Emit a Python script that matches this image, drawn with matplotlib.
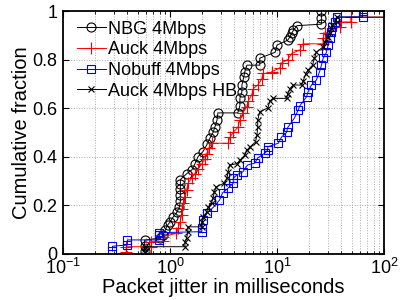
import matplotlib

matplotlib.use("Agg")
import matplotlib.pyplot as plt
from matplotlib.ticker import LogLocator, NullFormatter

plt.rcParams["font.family"] = ["Liberation Sans", "DejaVu Sans"]

# CDF vertices (x in ms, y cumulative fraction)
nbg_x = [0.58, 0.58, 0.58, 0.81, 0.86, 0.9, 0.95, 1.0, 1.07, 1.16, 1.22, 1.25, 1.25, 1.25,
         1.25, 1.25, 1.44, 1.6, 1.71, 1.83, 2.03, 2.22, 2.36, 2.53, 2.62, 2.75, 2.8, 4.3,
         4.5, 4.5, 4.7, 4.7, 4.9, 5.0, 5.24, 6.9, 6.9, 9.6, 10.0, 12.6, 13.2, 13.8, 14.2,
         15.4, 26.0, 26.0, 26.0]
nbg_y = [0.012, 0.03, 0.055, 0.064, 0.076, 0.096, 0.117, 0.13, 0.15, 0.17, 0.19, 0.215,
         0.24, 0.265, 0.285, 0.305, 0.33, 0.345, 0.37, 0.40, 0.42, 0.45, 0.476, 0.50, 0.52,
         0.55, 0.58, 0.58, 0.61, 0.64, 0.667, 0.695, 0.73, 0.75, 0.777, 0.777, 0.806, 0.83,
         0.86, 0.88, 0.894, 0.91, 0.92, 0.94, 0.946, 0.97, 1.0]

auck_x = [0.39, 0.39, 0.67, 0.67, 0.86, 0.86, 1.15, 1.19, 1.24, 1.29, 1.29, 1.33, 1.38,
          1.43, 1.47, 1.59, 1.71, 1.83, 1.98, 2.12, 2.2, 2.3, 2.46, 3.5, 3.63, 3.9, 4.3,
          4.5, 4.8, 5.2, 5.4, 5.8, 6.0, 6.6, 7.2, 7.4, 8.9, 8.9, 10.6, 11.1, 12.6, 13.7,
          16.4, 17.5, 27.0, 27.0, 28.0, 39.0, 40.0, 49.0, 49.0, 150.0]
auck_y = [0.007, 0.028, 0.028, 0.049, 0.05, 0.07, 0.083, 0.105, 0.13, 0.16, 0.185, 0.21,
          0.235, 0.26, 0.29, 0.31, 0.33, 0.35, 0.37, 0.39, 0.41, 0.435, 0.455, 0.455, 0.48,
          0.50, 0.52, 0.55, 0.58, 0.605, 0.63, 0.654, 0.68, 0.695, 0.72, 0.743, 0.743, 0.75,
          0.765, 0.787, 0.80, 0.825, 0.84, 0.865, 0.865, 0.89, 0.91, 0.935, 0.955, 0.955,
          0.975, 0.975]

nobuff_x = [0.29, 0.29, 0.40, 0.40, 0.79, 0.79, 0.79, 1.98, 1.98, 2.03, 2.2, 2.53, 2.9,
            3.1, 3.5, 3.9, 3.9, 4.2, 4.8, 5.3, 6.2, 6.6, 7.7, 8.2, 8.2, 10.3, 11.0, 12.3,
            12.6, 14.6, 15.7, 16.4, 18.9, 19.5, 21.0, 23.3, 25.0, 26.0, 27.0, 29.0, 30.0,
            31.0, 32.0, 33.0, 34.5, 36.0, 63.0, 63.0]
nobuff_y = [0.01, 0.03, 0.035, 0.056, 0.056, 0.076, 0.086, 0.09, 0.105, 0.138, 0.166, 0.19,
            0.22, 0.25, 0.27, 0.29, 0.31, 0.324, 0.337, 0.365, 0.373, 0.394, 0.414, 0.427,
            0.44, 0.455, 0.48, 0.50, 0.52, 0.56, 0.59, 0.61, 0.647, 0.667, 0.695, 0.715,
            0.75, 0.777, 0.805, 0.83, 0.86, 0.887, 0.915, 0.935, 0.955, 0.976, 0.976, 1.0]

auck_hb_x = [0.58, 0.58, 0.58, 1.38, 1.38, 1.43, 1.47, 1.47, 1.98, 1.98, 2.03, 2.2, 2.27,
             2.45, 2.53, 2.6, 2.7, 3.2, 3.4, 3.5, 3.6, 4.2, 4.5, 5.0, 5.2, 5.6, 6.3, 6.5,
             6.6, 6.6, 6.9, 8.2, 8.6, 9.2, 12.3, 12.6, 13.2, 14.2, 17.0, 17.5, 18.5, 19.5,
             21.5, 22.4, 23.3, 27.0, 28.0, 30.0, 31.0, 32.0, 33.0, 36.0, 36.0, 150.0]
auck_hb_y = [0.005, 0.02, 0.028, 0.028, 0.049, 0.064, 0.09, 0.11, 0.11, 0.13, 0.15, 0.17,
             0.19, 0.21, 0.23, 0.255, 0.275, 0.29, 0.31, 0.337, 0.365, 0.37, 0.385, 0.406,
             0.425, 0.44, 0.46, 0.49, 0.52, 0.55, 0.585, 0.60, 0.63, 0.64, 0.64, 0.66, 0.68,
             0.695, 0.695, 0.71, 0.74, 0.757, 0.777, 0.806, 0.83, 0.853, 0.873, 0.894, 0.91,
             0.93, 0.942, 0.955, 0.975, 0.975]

# label, x, y, colour, marker, marker size
series = [
    ("NBG 4Mbps", nbg_x, nbg_y, "black", "o", 6.5),
    ("Auck 4Mbps", auck_x, auck_y, "red", "+", 8.0),
    ("Nobuff 4Mbps", nobuff_x, nobuff_y, "blue", "s", 6.0),
    ("Auck 4Mbps HB", auck_hb_x, auck_hb_y, "black", "x", 5.0),
]


def main() -> None:
    fig = plt.figure(figsize=(4, 3), dpi=100)
    ax = fig.add_axes([0.1575, 0.155, 0.8025, 0.808])

    for label, xs, ys, color, marker, size in series:
        ax.plot(xs, ys, color=color, linewidth=0.7, marker=marker, markersize=size,
                markerfacecolor="none", markeredgecolor=color, markeredgewidth=0.8,
                label=label)

    ax.set_xscale("log")
    ax.set_xlim(0.1, 100)
    ax.set_ylim(0, 1)
    ax.set_yticks([0, 0.2, 0.4, 0.6, 0.8, 1])
    ax.set_yticklabels(["0", "0.2", "0.4", "0.6", "0.8", "1"])
    ax.xaxis.set_minor_locator(LogLocator(base=10, subs=range(2, 10)))
    ax.xaxis.set_minor_formatter(NullFormatter())

    ax.grid(True, which="major", linestyle=":", color="#aaaaaa", linewidth=0.7)
    ax.grid(True, which="minor", axis="x", linestyle=":", color="#aaaaaa", linewidth=0.7)
    ax.tick_params(which="both", direction="in", top=True, right=True, labelsize=13)
    ax.tick_params(axis="x", pad=3)
    ax.tick_params(axis="y", pad=4)
    ax.tick_params(which="major", length=4)
    ax.tick_params(which="minor", length=2)
    for spine in ax.spines.values():
        spine.set_linewidth(1.3)

    ax.set_xlabel("Packet jitter in milliseconds", fontsize=14.5, labelpad=0.5)
    ax.set_ylabel("Cumulative fraction", fontsize=14.5, labelpad=1)

    ax.legend(loc="upper left", fontsize=13, frameon=False, handlelength=1.6,
              handletextpad=0.15, labelspacing=0.2, borderaxespad=0.1,
              borderpad=0.3, bbox_to_anchor=(0.02, 0.99))

    fig.savefig("out.png", dpi=100)
    plt.close(fig)


if __name__ == "__main__":
    main()
